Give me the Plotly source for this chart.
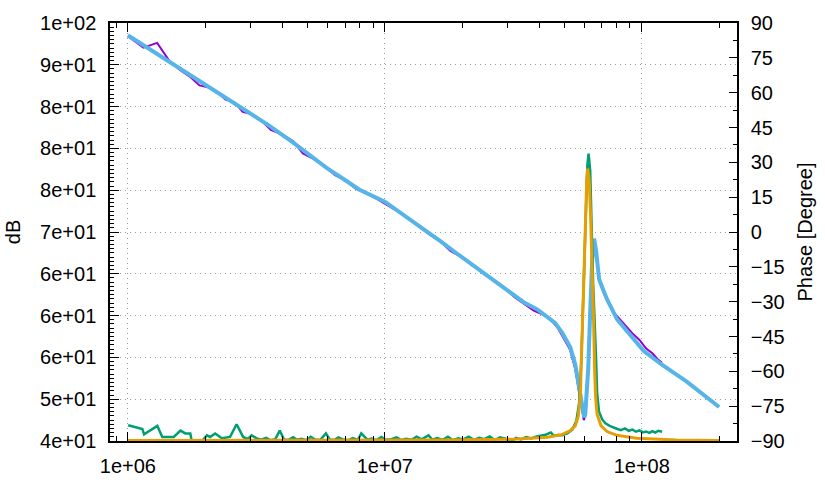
import plotly.graph_objects as go

# ---------------- data ----------------
# measured magnitude (dB) - purple
f_mag_meas = [1.0e6, 1.15e6, 1.3e6, 1.45e6, 1.6e6, 1.75e6, 1.9e6, 2.05e6, 2.2e6, 2.4e6, 2.6e6, 2.8e6,
              3.0e6, 3.3e6, 3.6e6, 4.0e6, 4.4e6, 4.8e6, 5.3e6, 5.8e6, 6.4e6, 7.0e6, 7.7e6, 8.5e6, 9.3e6,
              1.02e7, 1.12e7, 1.23e7, 1.35e7, 1.5e7, 1.65e7, 1.8e7, 2.0e7, 2.2e7, 2.4e7, 2.65e7, 2.9e7,
              3.2e7, 3.5e7, 3.8e7, 4.1e7, 4.4e7, 4.7e7, 5.0e7, 5.25e7, 5.5e7, 5.7e7, 5.85e7, 5.95e7,
              6.05e7, 6.15e7, 6.25e7, 6.35e7, 6.45e7, 6.55e7, 6.7e7, 6.9e7, 7.1e7, 7.4e7, 7.8e7, 8.2e7,
              8.7e7, 9.2e7, 9.8e7, 1.04e8, 1.1e8, 1.16e8, 1.2e8]
mag_meas = [93.42, 92.06, 92.62, 90.48, 89.34, 88.55, 87.53, 87.31, 86.86, 85.84, 85.50, 84.37,
            84.14, 83.35, 82.22, 81.65, 80.86, 79.39, 78.71, 77.92, 76.79, 76.22, 75.20, 74.64, 73.96,
            73.28, 72.49, 71.70, 70.68, 69.66, 68.87, 67.74, 66.95, 65.93, 65.25, 64.23, 63.44,
            62.19, 61.40, 60.61, 60.16, 59.59, 58.57, 57.10, 55.97, 53.71, 51.00, 48.62, 47.49,
            48.17, 52.24, 58.69, 64.91, 68.53, 68.30, 66.27, 63.78, 62.76, 61.52, 60.36, 59.57,
            58.77, 57.87, 57.08, 56.06, 55.49, 54.70, 54.36]

# fitted magnitude (dB) - light blue
f_mag_fit = [1.0e6, 1.227e6, 1.5e6, 2.0e6, 2.5e6, 3.0e6, 3.5e6, 4.375e6, 5.0e6, 5.916e6, 7.0e6, 7.935e6,
             1.0e7, 1.2e7, 1.427e7, 1.65e7, 1.913e7, 2.2e7, 2.566e7, 3.0e7, 3.502e7, 3.932e7, 4.3e7,
             4.6e7, 4.911e7, 5.272e7, 5.512e7, 5.712e7, 5.866e7, 5.972e7, 6.03e7, 6.14e7, 6.188e7,
             6.30e7, 6.412e7, 6.527e7, 6.644e7, 6.823e7, 7.07e7, 7.325e7, 8.008e7, 8.99e7, 1.018e8,
             1.194e8, 1.492e8, 2.0e8]
mag_fit = [93.53, 91.78, 90.06, 87.59, 85.68, 84.11, 82.84, 80.75, 79.39, 77.69, 76.22, 75.09,
           73.62, 71.92, 70.23, 68.87, 67.40, 66.04, 64.57, 62.99, 61.52, 60.72, 59.82,
           59.14, 57.90, 56.20, 54.16, 51.33, 49.07, 47.83, 48.28, 51.90, 53.60,
           60.38, 66.61, 69.21, 67.74, 64.34, 63.21, 61.97, 59.59, 57.78, 55.75,
           54.16, 52.13, 49.07]

# measured phase (degree) - green
f_ph_meas = [1.003e6, 1.139e6, 1.156e6, 1.302e6, 1.361e6, 1.509e6, 1.602e6, 1.674e6, 1.75e6, 1.778e6,
             1.912e6, 2.03e6, 2.09e6, 2.186e6, 2.321e6, 2.499e6, 2.65e6, 2.81e6, 2.93e6, 3.03e6, 3.16e6,
             3.3e6, 3.45e6, 3.6e6, 3.75e6, 3.9e6, 4.05e6, 4.2e6, 4.4e6, 4.55e6, 4.75e6, 4.95e6, 5.15e6,
             5.35e6, 5.6e6, 5.9e6, 6.1e6, 6.35e6, 6.6e6, 6.9e6, 7.2e6, 7.5e6, 7.85e6, 8.1e6, 8.55e6,
             8.9e6, 9.3e6, 9.7e6, 1.01e7, 1.06e7, 1.11e7, 1.16e7, 1.21e7, 1.27e7, 1.33e7, 1.39e7,
             1.48e7, 1.53e7, 1.6e7, 1.68e7, 1.76e7, 1.84e7, 1.93e7, 2.02e7, 2.12e7, 2.22e7, 2.33e7,
             2.44e7, 2.56e7, 2.68e7, 2.81e7, 2.95e7, 3.09e7, 3.24e7, 3.39e7, 3.55e7, 3.72e7, 3.9e7,
             4.08e7, 4.25e7, 4.43e7, 4.55e7, 4.7e7, 4.91e7, 5.134e7, 5.366e7, 5.562e7, 5.712e7,
             5.82e7, 5.92e7, 6.025e7, 6.14e7, 6.21e7, 6.30e7, 6.37e7, 6.47e7, 6.644e7, 6.703e7,
             6.82e7, 7.01e7, 7.2e7, 7.5e7, 8.0e7, 8.3e7, 8.6e7, 8.9e7, 9.2e7, 9.5e7, 9.8e7, 1.01e8,
             1.04e8, 1.07e8, 1.10e8, 1.13e8, 1.16e8, 1.2e8]
ph_meas = [-83.20, -84.83, -87.15, -83.48, -88.25, -88.25, -85.52, -86.74, -86.74, -91.0,
           -91.0, -87.56, -88.25, -86.74, -88.78, -88.25, -82.79, -88.25, -89.19, -87.56, -88.78,
           -89.4, -88.6, -89.7, -89.2, -85.5, -89.3, -89.6, -88.4, -89.5, -89.0, -89.7, -88.2,
           -89.4, -89.6, -86.7, -89.3, -89.6, -88.5, -89.4, -89.7, -88.8, -89.5, -86.7, -89.4,
           -88.9, -89.6, -88.3, -89.5, -89.2, -88.4, -89.6, -89.0, -89.5, -88.1, -89.3,
           -87.6, -89.4, -88.7, -89.5, -88.2, -89.6, -88.8, -89.3, -88.1, -89.5, -88.6,
           -89.2, -88.0, -89.6, -88.4, -89.0, -90.4, -88.7, -89.3, -88.3, -88.9, -88.0,
           -87.6, -87.2, -86.3, -87.8, -87.4, -87.56, -86.74, -85.11, -81.45, -73.30,
           -54.98, -26.47, 6.11, 28.51, 33.80, 26.47, 6.11, -22.40, -54.98, -69.23,
           -77.38, -80.63, -82.26, -83.48, -84.71, -85.3, -84.6, -85.6, -85.1, -86.0, -85.4, -86.3,
           -85.9, -86.5, -85.8, -86.4, -85.6, -86.0]

# fitted phase (degree) - orange
f_ph_fit = [1.0e6, 4.66e6, 1.766e7, 3.29e7, 4.30e7, 4.91e7, 5.27e7, 5.51e7, 5.66e7, 5.765e7, 5.82e7,
            5.866e7, 5.945e7, 6.025e7, 6.106e7, 6.161e7, 6.243e7, 6.327e7, 6.412e7, 6.496e7, 6.555e7,
            6.614e7, 6.703e7, 6.945e7, 7.325e7, 8.008e7, 9.566e7, 1.365e8, 2.0e8]
ph_fit = [-89.80, -89.71, -89.59, -89.19, -88.37, -87.15, -85.52, -83.48, -79.41, -71.27, -59.05,
          -42.76, -22.40, 2.04, 22.40, 27.29, 22.40, 6.11, -14.25, -38.69, -59.05,
          -71.27, -78.60, -83.48, -85.93, -87.56, -88.78, -89.59, -89.80]

# axis ticks
x_tickvals = [1e6, 1e7, 1e8]
x_ticktext = ["1e+06", "1e+07", "1e+08"]
x_minor = [9e5, 2e6, 3e6, 4e6, 5e6, 6e6, 7e6, 8e6, 9e6, 2e7, 3e7, 4e7, 5e7, 6e7, 7e7, 8e7, 9e7, 2e8]
y_tickvals = [45, 50, 55, 60, 65, 70, 75, 80, 85, 90, 95]
y_ticktext = ["4e+01", "5e+01", "6e+01", "6e+01", "6e+01", "7e+01", "8e+01", "8e+01", "8e+01", "9e+01", "1e+02"]

# ---------------- figure ----------------
FONT = "Liberation Sans, Arial, Helvetica, sans-serif"
GRID = "#9a9a9a"
fig = go.Figure()
fig.add_trace(go.Scatter(x=f_mag_meas, y=mag_meas, mode="lines", yaxis="y",
                         line=dict(color="#9400D3", width=2)))
fig.add_trace(go.Scatter(x=f_mag_fit, y=mag_fit, mode="lines", yaxis="y",
                         line=dict(color="#56B4E9", width=4)))
fig.add_trace(go.Scatter(x=f_ph_meas, y=ph_meas, mode="lines", yaxis="y2",
                         line=dict(color="#009E73", width=2.5)))
fig.add_trace(go.Scatter(x=f_ph_fit, y=ph_fit, mode="lines", yaxis="y2",
                         line=dict(color="#E69F00", width=3)))

fig.update_layout(
    width=825, height=489,
    margin=dict(l=109, r=84, t=14, b=33, pad=0),
    paper_bgcolor="white", plot_bgcolor="white",
    showlegend=False,
    font=dict(family=FONT, size=20, color="black"),
    xaxis=dict(type="log", range=[5.9305, 8.3707],
               tickvals=x_tickvals, ticktext=x_ticktext,
               ticks="inside", ticklen=9, tickwidth=1, tickcolor="black",
               showline=True, linecolor="black", linewidth=1.5, mirror="ticks",
               showgrid=True, gridcolor=GRID, gridwidth=1, griddash="1px,4px",
               zeroline=False, tickfont=dict(family=FONT, size=20, color="black"),
               ticklabelstandoff=6,
               minor=dict(tickvals=x_minor, ticks="inside", ticklen=5, tickwidth=1,
                          tickcolor="black", showgrid=False)),
    yaxis=dict(range=[45, 95], tickvals=y_tickvals, ticktext=y_ticktext,
               ticks="inside", ticklen=9, tickwidth=1, tickcolor="black",
               showline=True, linecolor="black", linewidth=1.5, mirror=False,
               showgrid=True, gridcolor=GRID, gridwidth=1, griddash="1px,4px",
               zeroline=False, tickfont=dict(family=FONT, size=20, color="black"),
               ticklabelstandoff=8,
               title=dict(text="dB", font=dict(family=FONT, size=20, color="black"), standoff=14),
               minor=dict(dtick=0.5, tick0=45, ticks="inside", ticklen=4, tickwidth=1,
                          tickcolor="black", showgrid=False)),
    yaxis2=dict(range=[-90, 90], overlaying="y", side="right",
                tickmode="linear", tick0=-90, dtick=15,
                ticks="inside", ticklen=8, tickwidth=1, tickcolor="black",
                showline=True, linecolor="black", linewidth=1.5,
                showgrid=False, zeroline=False,
                tickfont=dict(family=FONT, size=20, color="black"),
                ticklabelstandoff=8,
                title=dict(text="Phase [Degree]", font=dict(family=FONT, size=20, color="black"), standoff=14),
                minor=dict(dtick=7.5, tick0=-90, ticks="inside", ticklen=4, tickwidth=1,
                           tickcolor="black", showgrid=False)),
)

fig.write_html("out.html")
